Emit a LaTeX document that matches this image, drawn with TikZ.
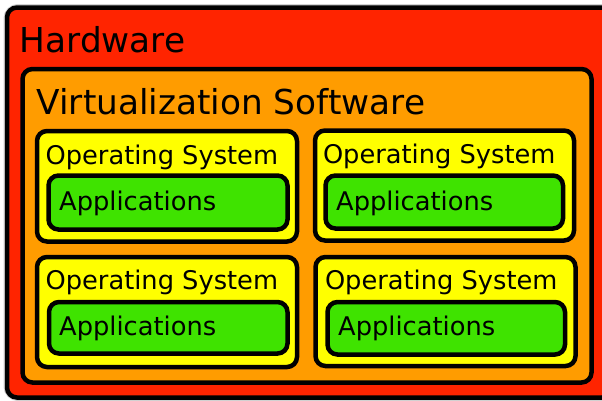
\documentclass[tikz,border=0pt]{standalone}
\usepackage{fontspec}
\setmainfont{DejaVu Sans}
\definecolor{hwred}{HTML}{FF2400}
\definecolor{vmorange}{HTML}{FF9C00}
\definecolor{osyellow}{HTML}{FFFF00}
\definecolor{appgreen}{HTML}{3FE300}
\tikzset{
  layer/.style={draw=black, line width=4.5pt, rounded corners=10pt},
  halo/.style={draw=black!18, line width=7pt, rounded corners=11pt},
  bigtitle/.style={anchor=base west, inner sep=0pt, font=\fontsize{34.3}{40}\selectfont},
  smalltitle/.style={anchor=base west, inner sep=0pt, font=\fontsize{25.7}{30}\selectfont},
}
\begin{document}
\begin{tikzpicture}[x=1pt, y=-1pt]
  \useasboundingbox (0,0) rectangle (602,400);
  % hardware layer
  \draw[halo] (7,7.5) rectangle (612,397.5);
  \draw[layer, fill=hwred] (7,7.5) rectangle (612,397.5);
  \node[bigtitle] (hw) at (19.5,52.5) {Hardware};
  % virtualization layer
  \draw[layer, fill=vmorange] (22.5,69) rectangle (591.5,382.5);
  \node[bigtitle] (virt) at (36.5,114.5) {Virtualization Software};
  % operating systems
  \draw[layer, fill=osyellow] (37,131) rectangle (297,241.5);
  \draw[layer, fill=osyellow] (315,130.5) rectangle (574,240.5);
  \draw[layer, fill=osyellow] (37,257) rectangle (297,367);
  \draw[layer, fill=osyellow] (315.5,257) rectangle (575.5,366);
  \node[smalltitle] (os1) at (45.4,164) {Operating System};
  \node[smalltitle] (os2) at (322.8,163.5) {Operating System};
  \node[smalltitle] (os3) at (45.4,289.3) {Operating System};
  \node[smalltitle] (os4) at (324.8,289.3) {Operating System};
  % applications
  \draw[layer, fill=appgreen] (48.5,175.5) rectangle (287.5,229.5);
  \draw[layer, fill=appgreen] (325.5,175.5) rectangle (563,228.5);
  \draw[layer, fill=appgreen] (49,302) rectangle (287.5,353.5);
  \draw[layer, fill=appgreen] (327.5,302) rectangle (565,354.5);
  \node[smalltitle] (app1) at (59,210.5) {Applications};
  \node[smalltitle] (app2) at (336,210) {Applications};
  \node[smalltitle] (app3) at (59,335.5) {Applications};
  \node[smalltitle] (app4) at (338,335.5) {Applications};
\end{tikzpicture}
\end{document}
